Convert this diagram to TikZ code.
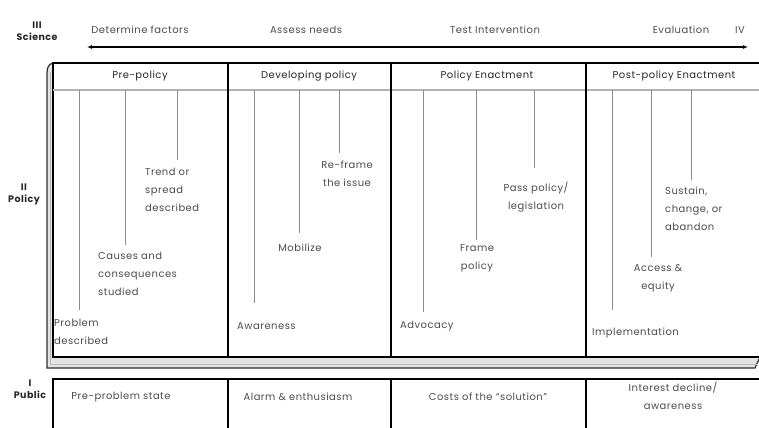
\documentclass[tikz,border=0pt]{standalone}
\usepackage{fontspec}
\setmainfont{Poppins}[LetterSpace=5]
\usepackage{xcolor}
\usetikzlibrary{arrows.meta, positioning}

\definecolor{txtgray}{gray}{0.3}
\definecolor{stemgray}{gray}{0.55}

\begin{document}
\begin{tikzpicture}[x=1bp, y=-1bp,
    every node/.style={font=\fontsize{10}{18}\selectfont, inner sep=1bp, text=txtgray},
    level/.style={font=\fontsize{9.5}{12}\selectfont\bfseries, text=black!85, align=center},
    head/.style={text=black!85},
    stem/.style={draw=stemgray, line width=1bp},
    frame/.style={draw=black, line width=1.5bp},
    lbl/.style={align=left, anchor=west}]
    \useasboundingbox (0,0) rectangle (759,427);
    % Science axis on top
    \node[level] (sci) at (37,31) {III\\Science};
    \coordinate (axl) at (87,47);
    \coordinate (axr) at (748,47);
    \draw[line width=1.6bp, {Latex[length=5bp,width=4bp]}-{Latex[length=5bp,width=4bp]}] (axl) -- (axr);
    \foreach \x/\t [count=\i] in {140/Determine factors, 306/Assess needs, 495/Test Intervention, 681/Evaluation} {
        \node (step\i) at (\x,30) {\t};
    }
    \node (iv) at (740,30) {IV};
    % Policy box with its raised edge
    \draw[fill=gray!22, draw=gray!35!black, line width=1.2bp]
        (53,63) .. controls (49,64) and (47,67) .. (47,73) -- (47,368) -- (755,368) -- (760,357) -- cycle;
    \draw[draw=gray!55, line width=0.8bp] (50,72) -- (50,364) -- (758,364);
    \draw[frame, fill=white] (53,63) rectangle (763,357);
    \draw[draw=gray!60, line width=1.6bp] (53,90) -- (763,90);
    \foreach \x in {228,391,586} {
        \draw[frame] (\x,63) -- (\x,357);
    }
    \node[level] (pol) at (24,194) {II\\Policy};
    % Column heads
    \foreach \x/\t [count=\i] in {140/Pre-policy, 309/Developing policy, 487/Policy Enactment, 674/Post-policy Enactment} {
        \node[head] (head\i) at (\x,76) {\t};
    }
    % Stems hanging from the head row
    \foreach \x/\e [count=\i] in {79/310, 125/245, 177/160, 254/303, 299/233, 339/153,
                                  423/312, 476/240, 534/168, 612/310, 651/257, 691/180} {
        \coordinate (top\i) at (\x,90);
        \coordinate (end\i) at (\x,\e);
        \draw[stem] (top\i) -- (end\i);
    }
    % Stage labels
    \node[lbl] (lab1) at (53,332) {Problem\\described};
    \node[lbl] (lab2) at (97,274) {Causes and\\consequences\\studied};
    \node[lbl] (lab3) at (144,190) {Trend or\\spread\\described};
    \node[lbl] (lab4) at (236,326) {Awareness};
    \node (lab5) at (300,248) {Mobilize};
    \node[align=center] (lab6) at (347,174) {Re-frame\\the issue};
    \node[lbl] (lab7) at (399,326) {Advocacy};
    \node[align=center] (lab8) at (477,258) {Frame\\policy};
    \node[align=center] (lab9) at (536,197) {Pass policy/\\legislation};
    \node[lbl] (lab10) at (591,333) {Implementation};
    \node[align=center] (lab11) at (658,278) {Access \&\\equity};
    \node[lbl] (lab12) at (664,209) {Sustain,\\change, or\\abandon};
    % Public row
    \node[level] (pub) at (30,389) {I\\Public};
    \draw[frame] (53,379) rectangle (763,432);
    \foreach \x in {228,391,586} {
        \draw[frame] (\x,379) -- (\x,432);
    }
    \foreach \x/\t [count=\i] in {121/Pre-problem state, 298/Alarm \& enthusiasm, 488/Costs of the ``solution''} {
        \node (pub\i) at (\x,397) {\t};
    }
    \node[align=center] (pub4) at (673,396) {Interest decline/\\awareness};
\end{tikzpicture}
\end{document}
